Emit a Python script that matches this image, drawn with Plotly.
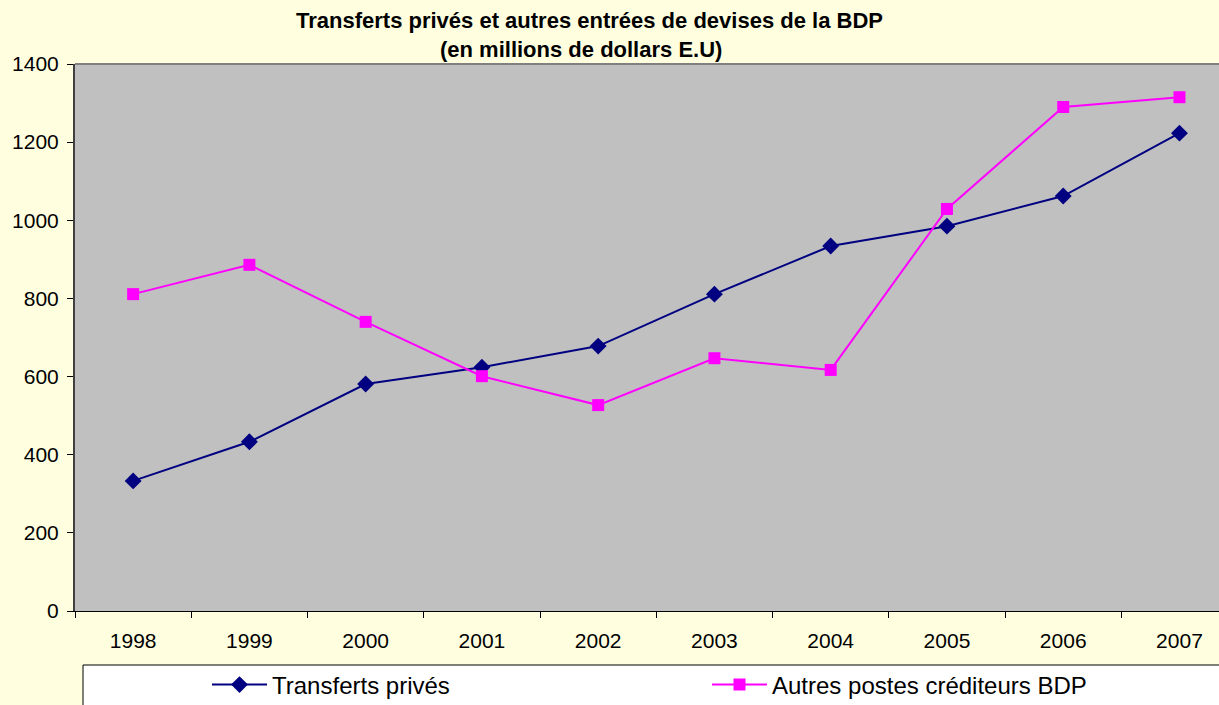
import plotly.graph_objects as go

years = ["1998", "1999", "2000", "2001", "2002", "2003", "2004", "2005", "2006", "2007"]
transferts = [333, 433, 581, 624, 678, 811, 934, 985, 1062, 1223]
autres = [811, 886, 740, 601, 527, 647, 617, 1029, 1290, 1315]
y_ticks = [0, 200, 400, 600, 800, 1000, 1200, 1400]

W, H = 1219, 705
L, R, T, B = 75, 0, 64, 94
ph = H - T - B
pw = W - L - R

def px_x(x):
    return (x - L) / pw

def px_y(y):
    return (H - B - y) / ph

fig = go.Figure()
fig.add_trace(go.Scatter(
    x=years, y=transferts, name="Transferts privés", mode="lines+markers",
    line=dict(color="#000080", width=2),
    marker=dict(symbol="diamond", size=13, color="#000080"),
))
fig.add_trace(go.Scatter(
    x=years, y=autres, name="Autres postes créditeurs BDP", mode="lines+markers",
    line=dict(color="#FF00FF", width=2),
    marker=dict(symbol="square", size=12, color="#FF00FF"),
))

font = "Arial, Liberation Sans, sans-serif"

fig.update_layout(
    width=W, height=H,
    margin=dict(l=L, r=R, t=T, b=B, pad=0, autoexpand=False),
    paper_bgcolor="#FFFFE0",
    plot_bgcolor="#C0C0C0",
    font=dict(family=font, color="black", size=21),
    showlegend=True,
    legend=dict(
        orientation="h", x=px_x(207), xanchor="left", y=px_y(685), yanchor="middle",
        bgcolor="rgba(0,0,0,0)", borderwidth=0,
        font=dict(size=24, family=font, color="black"),
        entrywidth=430, entrywidthmode="pixels", itemwidth=55,
        traceorder="normal",
    ),
    xaxis=dict(
        type="category", range=[-0.5, 9.34], tickson="boundaries",
        ticks="outside", ticklen=6, tickcolor="black", tickwidth=1,
        showline=True, linecolor="black", linewidth=1,
        showgrid=False, zeroline=False, ticklabelstandoff=11,
        tickfont=dict(size=21),
    ),
    yaxis=dict(
        range=[0, 1400], tickvals=y_ticks, ticktext=[str(v) for v in y_ticks],
        ticks="outside", ticklen=6, tickcolor="black", tickwidth=1,
        showline=True, linecolor="#404040", linewidth=2,
        showgrid=False, zeroline=False, ticklabelstandoff=4,
        tickfont=dict(size=21),
    ),
    annotations=[
        dict(text="<b>Transferts privés et autres entrées de devises de la BDP</b>",
             xref="paper", yref="paper", x=px_x(589), y=px_y(20), showarrow=False,
             xanchor="center", yanchor="middle", font=dict(size=22, family=font)),
        dict(text="<b>(en millions de dollars E.U)</b>",
             xref="paper", yref="paper", x=px_x(581), y=px_y(49), showarrow=False,
             xanchor="center", yanchor="middle", font=dict(size=22, family=font)),
    ],
    shapes=[
        dict(type="line", xref="paper", yref="paper", x0=0, x1=1, y0=1, y1=1,
             line=dict(color="#808080", width=2), layer="above"),
        dict(type="rect", xref="paper", yref="paper",
             x0=px_x(83), x1=px_x(1240), y0=px_y(665), y1=px_y(720),
             fillcolor="white", line=dict(color="black", width=1), layer="above"),
    ],
)

fig.write_html(
    "out.html",
    config={"displayModeBar": False},
    post_script="document.body.style.margin='0px';document.body.style.overflow='hidden';",
)
